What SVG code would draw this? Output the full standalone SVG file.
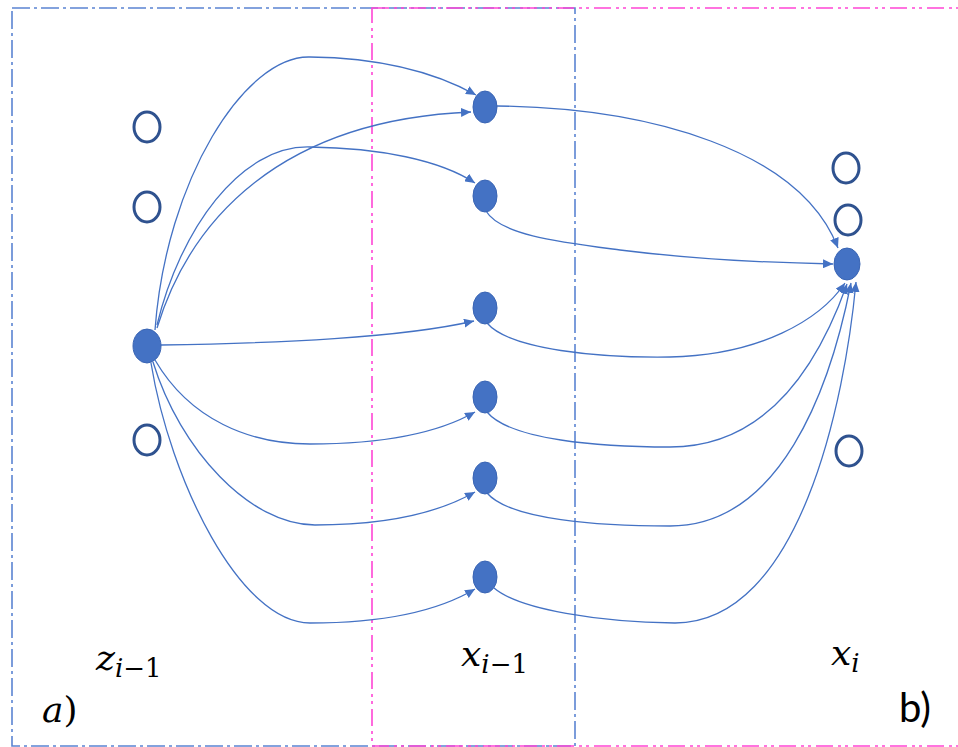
<svg xmlns="http://www.w3.org/2000/svg" width="958" height="747" viewBox="0 0 958 747">
<style>
.frameB{fill:none;stroke:#5B84D2;stroke-width:1.6;stroke-dasharray:18 4 3 4}
.frameM{fill:none;stroke:#FF45D5;stroke-width:1.6;stroke-dasharray:17 5 3 4 3 5}
.edge{fill:none;stroke:#4472C4;stroke-width:1.3;marker-end:url(#arr)}
.full{fill:#4472C4;stroke:#3A65B4;stroke-width:1}
.empty{fill:#FFFFFF;stroke:#2F528F;stroke-width:3}
.math{font-family:"DejaVu Serif","Liberation Serif",serif;font-style:italic;fill:#000}
.up{font-style:normal}
.lab{font-family:Lato,"Open Sans",sans-serif;fill:#000}
</style>
<defs>
<marker id="arr" markerUnits="userSpaceOnUse" markerWidth="11" markerHeight="9" viewBox="0 0 11 9" refX="10" refY="4.5" orient="auto">
<path d="M0,0 L10,4.5 L0,9 Z" fill="#4472C4"/>
</marker>
</defs>
<rect fill="#FFFFFF" x="0" y="0" width="958" height="747"/>
<g id="frames">
<rect class="frameB" x="12" y="8" width="563" height="738"/>
<rect class="frameM" x="372" y="8" width="620" height="738"/>
</g>
<g id="connectors">
<path class="edge" d="M155,330 C166,180 245,55 310,57 C390,58 440,75 476,95"/>
<path class="edge" d="M157,328 C190,220 280,120 471,112"/>
<path class="edge" d="M157,325 C180,230 240,145 310,147 C380,148 440,160 475,183"/>
<path class="edge" d="M161,345 C280,343 400,338 474,321"/>
<path class="edge" d="M155,360 C190,420 250,444 310,444 C390,444 440,432 475,412"/>
<path class="edge" d="M153,362 C180,450 250,525 315,525 C390,525 440,512 475,492"/>
<path class="edge" d="M151,363 C170,480 240,623 310,623 C390,623 440,610 475,589"/>
<path class="edge" d="M497,106 C650,108 800,150 838,248"/>
<path class="edge" d="M486,211 C500,235 560,242 620,250 C700,260 780,263 833,264"/>
<path class="edge" d="M487,323 C510,350 600,358 670,357 C760,355 820,320 845,283"/>
<path class="edge" d="M487,412 C510,440 600,447 670,447 C770,447 820,360 847,284"/>
<path class="edge" d="M487,493 C510,520 600,526 670,526 C780,526 830,390 851,283"/>
<path class="edge" d="M494,588 C520,610 600,622 675,623 C800,623 845,400 856,282"/>
</g>
<g id="z-empty-1"><ellipse class="empty" cx="147" cy="127" rx="13" ry="15"/></g>
<g id="z-empty-2"><ellipse class="empty" cx="147" cy="207" rx="13" ry="15"/></g>
<g id="z-node"><ellipse class="full" cx="147" cy="346" rx="14" ry="17"/></g>
<g id="z-empty-3"><ellipse class="empty" cx="147" cy="440" rx="13" ry="15"/></g>
<g id="xp-1"><ellipse class="full" cx="485" cy="107" rx="12" ry="16"/></g>
<g id="xp-2"><ellipse class="full" cx="485" cy="196" rx="12" ry="16"/></g>
<g id="xp-3"><ellipse class="full" cx="485" cy="308" rx="12" ry="16"/></g>
<g id="xp-4"><ellipse class="full" cx="485" cy="397" rx="12" ry="16"/></g>
<g id="xp-5"><ellipse class="full" cx="485" cy="478" rx="12" ry="16"/></g>
<g id="xp-6"><ellipse class="full" cx="485" cy="577" rx="12" ry="16"/></g>
<g id="x-empty-1"><ellipse class="empty" cx="846" cy="168" rx="13" ry="15"/></g>
<g id="x-empty-2"><ellipse class="empty" cx="848" cy="220" rx="13" ry="15"/></g>
<g id="x-node"><ellipse class="full" cx="847" cy="264" rx="13" ry="16"/></g>
<g id="x-empty-3"><ellipse class="empty" cx="849" cy="451" rx="13" ry="15"/></g>
<g id="labels">
<text class="math" x="96" y="670" font-size="36">z<tspan font-size="26" dy="7">i<tspan class="up">−1</tspan></tspan></text>
<text class="math" x="461" y="666" font-size="36">x<tspan font-size="26" dy="7">i<tspan class="up">−1</tspan></tspan></text>
<text class="math" x="831" y="665" font-size="36">x<tspan font-size="26" dy="7">i</tspan></text>
<text class="math" x="42" y="722" font-size="36">a<tspan class="up">)</tspan></text>
<text class="lab" x="899" y="722" font-size="40">b)</text>
</g>
</svg>
